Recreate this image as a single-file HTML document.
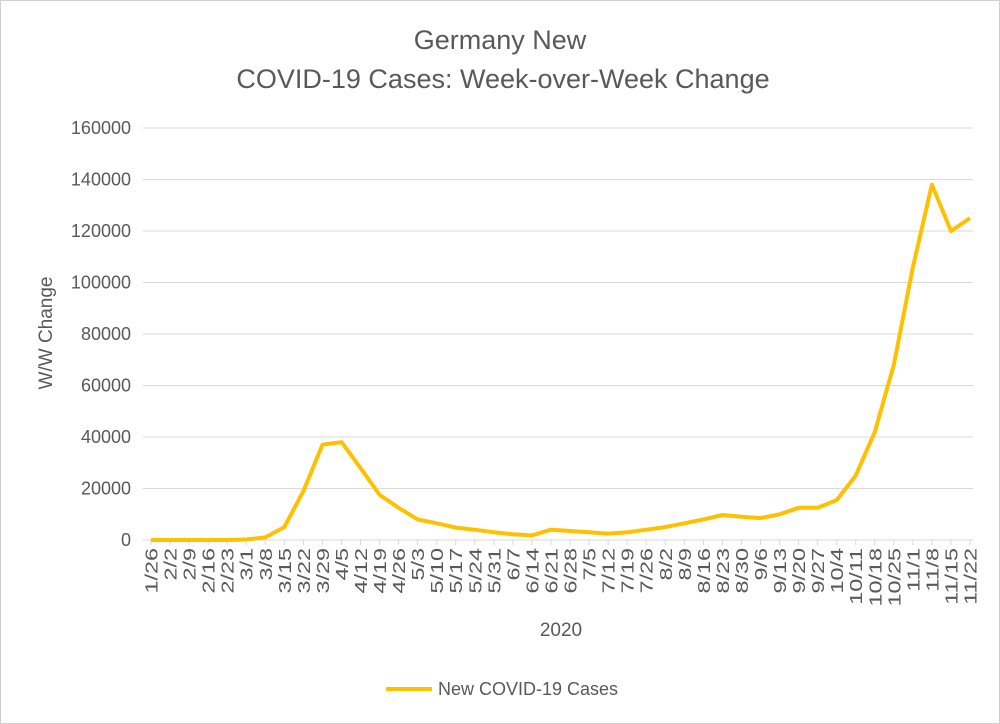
<!DOCTYPE html>
<html><head><meta charset="utf-8"><style>
html,body{margin:0;padding:0;background:#fff;}
svg{display:block;font-family:"Liberation Sans",sans-serif;}
</style></head><body>
<svg id="chart" width="1000" height="724" viewBox="0 0 1000 724">
<rect x="0.5" y="0.5" width="999" height="723" fill="#fff" stroke="#d0d0d0"/>
<text x="500" y="49" text-anchor="middle" font-size="27" fill="#595959">Germany New</text>
<text x="503" y="88" text-anchor="middle" font-size="27" fill="#595959">COVID-19 Cases: Week-over-Week Change</text>
<g id="grid"></g><g id="yticks"></g><g id="xticks"></g>
<path id="series" fill="none" stroke="#FFC000" stroke-width="4" stroke-linejoin="round"/>
<text x="0" y="0" transform="translate(52,333) rotate(-90)" text-anchor="middle" font-size="19" fill="#595959">W/W Change</text>
<text x="561" y="636" text-anchor="middle" font-size="19" fill="#595959">2020</text>
<g>
<line x1="386" y1="689" x2="432" y2="689" stroke="#FFC000" stroke-width="4"/>
<text x="438" y="695" font-size="18" fill="#595959">New COVID-19 Cases</text>
</g>
</svg>
<script>
const categories=["1/26","2/2","2/9","2/16","2/23","3/1","3/8","3/15","3/22","3/29","4/5","4/12","4/19","4/26","5/3","5/10","5/17","5/24","5/31","6/7","6/14","6/21","6/28","7/5","7/12","7/19","7/26","8/2","8/9","8/16","8/23","8/30","9/6","9/13","9/20","9/27","10/4","10/11","10/18","10/25","11/1","11/8","11/15","11/22"];
const values=[0,0,0,0,0,200,1000,5000,19000,37000,38000,28000,17500,12500,8000,6500,4800,4000,3000,2200,1800,4000,3500,3000,2500,3000,4000,5000,6500,8000,9700,9000,8500,10000,12500,12500,15500,25000,42000,68000,106000,138000,120000,125000];
const yTicks=[0,20000,40000,60000,80000,100000,120000,140000,160000];
const NS="http://www.w3.org/2000/svg";
const X0=151,X1=970,Y0=540,Y1=128,YMAX=160000;
function xs(i){return X0+(X1-X0)*i/(categories.length-1);}
function ys(v){return Y0-(Y0-Y1)*v/YMAX;}
const grid=document.getElementById('grid'),yt=document.getElementById('yticks'),xt=document.getElementById('xticks');
yTicks.forEach(t=>{
 const l=document.createElementNS(NS,'line');
 l.setAttribute('x1',143);l.setAttribute('x2',973);l.setAttribute('y1',ys(t));l.setAttribute('y2',ys(t));
 l.setAttribute('stroke','#d9d9d9');l.setAttribute('stroke-width',1);
 
 
 grid.appendChild(l);
 const tx=document.createElementNS(NS,'text');
 tx.setAttribute('x',131);tx.setAttribute('y',ys(t)+6);tx.setAttribute('text-anchor','end');
 tx.setAttribute('font-size','18');tx.setAttribute('fill','#595959');tx.textContent=t;
 
 
 yt.appendChild(tx);
});
categories.forEach((c,i)=>{
 const x=xs(i);
 const tk=document.createElementNS(NS,'line');
 tk.setAttribute('x1',x);tk.setAttribute('x2',x);tk.setAttribute('y1',540);tk.setAttribute('y2',545);
 tk.setAttribute('stroke','#d9d9d9');
 
 
 xt.appendChild(tk);
 const tx=document.createElementNS(NS,'text');
 tx.setAttribute('transform','translate('+(x+6.5)+',548) rotate(-90) scale(1.3,1)');
 tx.setAttribute('text-anchor','end');tx.setAttribute('font-size','18');tx.setAttribute('fill','#595959');
 tx.textContent=c;
 
 
 xt.appendChild(tx);
});
document.getElementById('series').setAttribute('d',values.map((v,i)=>(i?'L':'M')+xs(i).toFixed(1)+','+ys(v).toFixed(1)).join(' '));
</script>
</body></html>
